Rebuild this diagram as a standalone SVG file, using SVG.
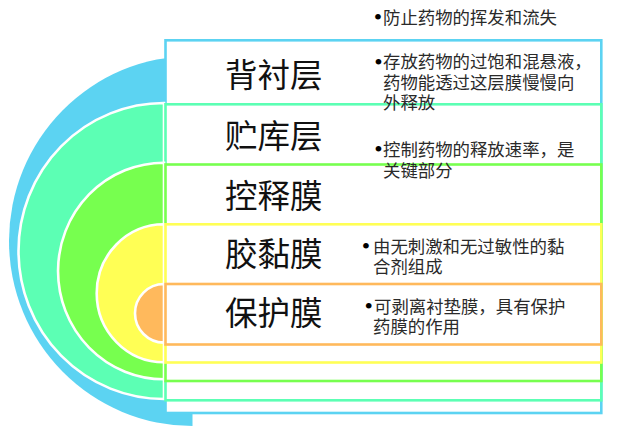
<svg xmlns="http://www.w3.org/2000/svg" width="625" height="435" viewBox="0 0 625 435">
<style>
.box{fill:#ffffff;stroke-width:2.6}
.disc{stroke:#ffffff;stroke-width:2.6}
.lbl{font-family:"Noto Sans CJK SC","Noto Sans",sans-serif;font-size:32.5px;fill:#111111}
.desc{font-family:"Liberation Serif","Noto Sans CJK SC",serif;font-size:17.4px;fill:#2a2a2a}
.bul{font-family:"Liberation Serif",serif;font-size:24px;fill:#000000}
</style>
<rect width="625" height="435" fill="#ffffff"/>
<g id="layer-backing">
<path d="M192.5,56 A183.5,185 0 0 0 192.5,426 Z" fill="#5CD3F2"/>
<rect class="box" x="165.5" y="40.3" width="435.8" height="372.7" stroke="#5CD3F2"/>
<text class="lbl" x="225" y="87">背衬层</text>
</g>
<g id="layer-reservoir">
<path class="disc" d="M164,103 A145.5,148 0 0 0 164,399 Z" fill="#5CFFB4"/>
<rect class="box" x="165.5" y="104.3" width="435.8" height="296" stroke="#5CFFB4"/>
<text class="lbl" x="225" y="147.5">贮库层</text>
</g>
<g id="layer-control">
<path class="disc" d="M164,162.7 A106,108.3 0 0 0 164,379.3 Z" fill="#77FF4F"/>
<rect class="box" x="165.5" y="164.5" width="435.8" height="216.5" stroke="#77FF4F"/>
<text class="lbl" x="225" y="207.5">控释膜</text>
</g>
<g id="layer-adhesive">
<path class="disc" d="M164,224.3 A67.3,69 0 0 0 164,362.3 Z" fill="#FFFF55"/>
<rect class="box" x="165.5" y="224.3" width="435.8" height="138.2" stroke="#FFFF55"/>
<text class="lbl" x="225" y="265.5">胶黏膜</text>
</g>
<g id="layer-protective">
<path class="disc" d="M164,284 A29,29.3 0 0 0 164,342.6 Z" fill="#FFB95C"/>
<rect class="box" x="165.5" y="284" width="435.8" height="60.5" stroke="#FFB95C"/>
<text class="lbl" x="225" y="324.5">保护膜</text>
</g>
<g id="descriptions">
<text class="bul" x="373.7" y="24.7">•</text>
<text class="desc" x="383" y="23.6">防止药物的挥发和流失</text>
<text class="bul" x="374.2" y="70.1">•</text>
<text class="desc" x="383" y="68.3">存放药物的过饱和混悬液，</text>
<text class="desc" x="383" y="89">药物能透过这层膜慢慢向</text>
<text class="desc" x="383" y="109">外释放</text>
<text class="bul" x="374.2" y="156.6">•</text>
<text class="desc" x="383" y="155.6">控制药物的释放速率，是</text>
<text class="desc" x="383" y="176.6">关键部分</text>
<text class="bul" x="361.7" y="254.4">•</text>
<text class="desc" x="373" y="253.3">由无刺激和无过敏性的黏</text>
<text class="desc" x="373" y="273.3">合剂组成</text>
<text class="bul" x="364.5" y="313.9">•</text>
<text class="desc" x="374" y="312.6">可剥离衬垫膜，具有保护</text>
<text class="desc" x="373" y="333.3">药膜的作用</text>
</g>
</svg>
